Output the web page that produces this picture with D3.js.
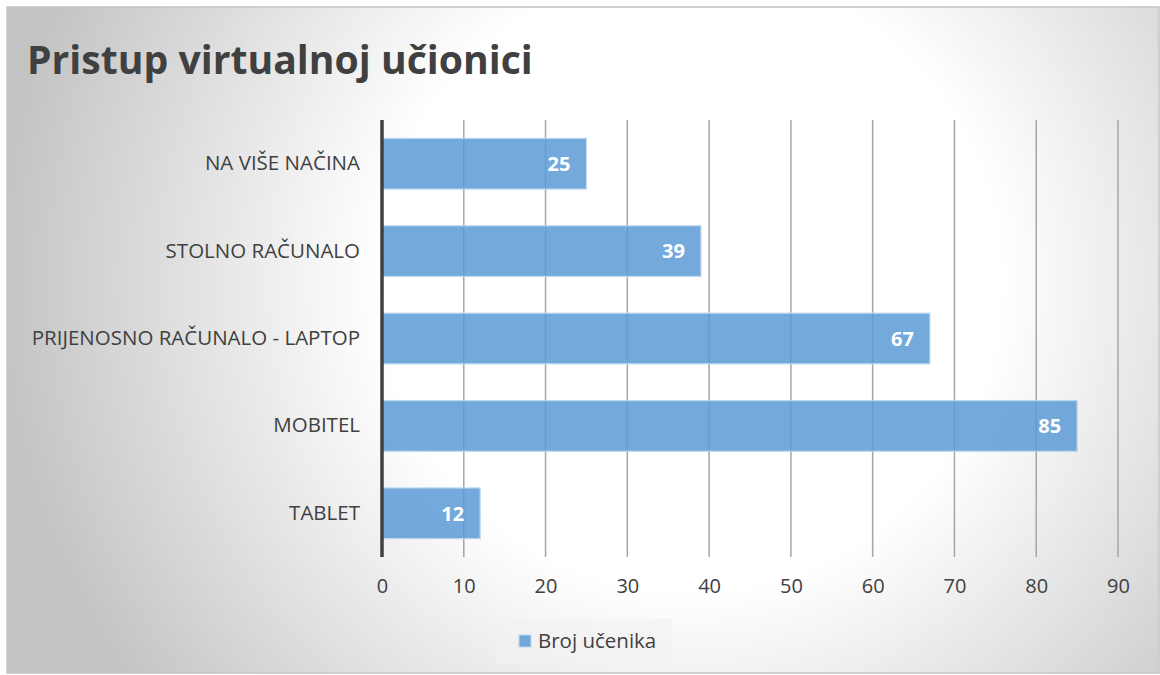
<!DOCTYPE html>
<html><head><meta charset="utf-8">
<script src="https://cdn.jsdelivr.net/npm/d3@7"></script>
<style>html,body{margin:0;padding:0;background:#fff;}svg{display:block;}</style>
</head><body><svg id="c" width="1160" height="675"></svg>
<script>
const categories = ["NA VIŠE NAČINA", "STOLNO RAČUNALO", "PRIJENOSNO RAČUNALO - LAPTOP", "MOBITEL", "TABLET"];
const values = [25, 39, 67, 85, 12];
const tickValues = [0, 10, 20, 30, 40, 50, 60, 70, 80, 90];
const seriesName = "Broj učenika";
const title = "Pristup virtualnoj učionici";

const svg = d3.select("#c");
const FONT = "'Open Sans', 'Noto Sans', sans-serif";
const defs = svg.append("defs");
const rg = defs.append("radialGradient").attr("id","bg").attr("gradientUnits","userSpaceOnUse")
  .attr("cx",690).attr("cy",280).attr("r",690);
rg.append("stop").attr("offset","0").attr("stop-color","#ffffff");
rg.append("stop").attr("offset","0.45").attr("stop-color","#ffffff");
rg.append("stop").attr("offset","1").attr("stop-color","#c4c4c4");

svg.append("rect").attr("x",7).attr("y",7).attr("width",1152).attr("height",666)
  .attr("fill","url(#bg)").attr("stroke","#c4c4c4").attr("stroke-width",1.5);

const x = d3.scaleLinear().domain([0,90]).range([382,1118]);
const y = d3.scaleBand().domain(categories).range([120,557]).paddingInner(0.42).paddingOuter(0.21);

// gridlines
svg.append("g").selectAll("line").data(tickValues.filter(d=>d>0)).join("line")
  .attr("x1",d=>x(d)).attr("x2",d=>x(d)).attr("y1",120).attr("y2",557)
  .attr("stroke","#a6a6a6").attr("stroke-width",1.5);

// bars
svg.append("g").selectAll("rect").data(values).join("rect")
  .attr("x",x(0)).attr("y",(d,i)=>y(categories[i]))
  .attr("width",d=>x(d)-x(0)).attr("height",y.bandwidth())
  .attr("fill","#5b9bd5").attr("fill-opacity",0.85)
  .attr("stroke","#bdd7ee").attr("stroke-width",1.2);

// bar labels
svg.append("g").selectAll("text").data(values).join("text")
  .attr("x",d=>x(d)-16).attr("y",(d,i)=>y(categories[i])+y.bandwidth()/2)
  .attr("dy","0.36em").attr("text-anchor","end")
  .attr("font-family",FONT).attr("font-weight","bold").attr("font-size",20)
  .attr("fill","#ffffff").text(d=>d);

// y axis (category labels + thick line)
const yAxis = svg.append("g").attr("transform","translate(382,0)")
  .call(d3.axisLeft(y).tickSize(0).tickPadding(22));
yAxis.select(".domain").remove();
yAxis.selectAll("text").attr("font-family",FONT).attr("font-size",20.5).attr("fill","#404040");
svg.append("line").attr("x1",382).attr("x2",382).attr("y1",120).attr("y2",557)
  .attr("stroke","#404040").attr("stroke-width",3.5);

// x axis
const xAxis = svg.append("g").attr("transform","translate(0,557)")
  .call(d3.axisBottom(x).tickValues(tickValues).tickSize(0).tickPadding(22));
xAxis.select(".domain").remove();
xAxis.selectAll("text").attr("font-family",FONT).attr("font-size",20).attr("fill","#404040");

// title
const t = svg.append("text").attr("x",27).attr("y",74)
  .attr("font-family",FONT).attr("font-weight","bold").attr("font-size",40)
  .attr("fill","#404040").text(title);
const tw = t.node().getComputedTextLength();
t.attr("font-size", 40*506/tw);

// legend
svg.append("rect").attr("x",495).attr("y",619).attr("width",177).attr("height",44)
  .attr("fill","#f2f2f2").attr("fill-opacity",0.6);
svg.append("rect").attr("x",519).attr("y",635).attr("width",12).attr("height",12)
  .attr("fill","#5b9bd5").attr("fill-opacity",0.85).attr("stroke","#bdd7ee");
svg.append("text").attr("x",538).attr("y",641).attr("dy","0.36em")
  .attr("font-family",FONT).attr("font-size",20.5).attr("fill","#404040").text(seriesName);
</script></body></html>
